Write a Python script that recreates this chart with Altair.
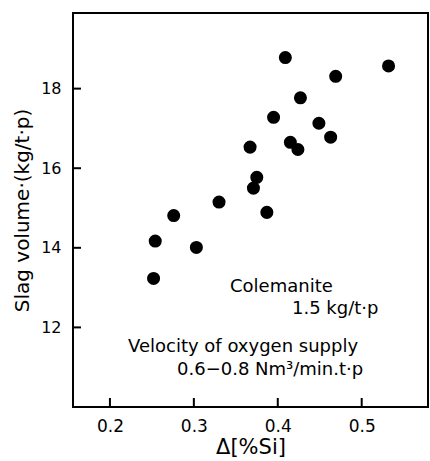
import altair as alt
import pandas as pd

si = [0.409, 0.532, 0.469, 0.427, 0.395, 0.449, 0.463, 0.367, 0.415, 0.424,
      0.375, 0.371, 0.330, 0.387, 0.276, 0.254, 0.303, 0.252]
slag = [18.78, 18.57, 18.31, 17.77, 17.28, 17.13, 16.78, 16.53, 16.65, 16.47,
        15.77, 15.50, 15.15, 14.89, 14.81, 14.17, 14.01, 13.23]
x_ticks = [0.2, 0.3, 0.4, 0.5]
y_ticks = [12, 14, 16, 18]
notes = ["Colemanite", "1.5 kg/t·p", "Velocity of oxygen supply", "0.6−0.8 Nm³/min.t·p"]

FONT = "DejaVu Sans"
W, H = 355, 394
xs = alt.Scale(domain=[0.156, 0.579], nice=False, zero=False)
ys = alt.Scale(domain=[10.0, 19.9], nice=False, zero=False)

df = pd.DataFrame({"si": si, "slag": slag})

pts = alt.Chart(df).mark_circle(size=170, color="black", opacity=1).encode(
    x=alt.X("si:Q", scale=xs, title="Δ[%Si]",
            axis=alt.Axis(values=x_ticks, format=".1f", domain=False, ticks=False, grid=False,
                          labelFontSize=17, labelPadding=11, titleFontSize=21,
                          titlePadding=2, titleFontWeight="normal", labelFont=FONT, titleFont=FONT,
                          labelColor="black", titleColor="black")),
    y=alt.Y("slag:Q", scale=ys, title="Slag volume·(kg/t·p)",
            axis=alt.Axis(values=y_ticks, format="d", domain=False, ticks=False, grid=False,
                          labelFontSize=16, labelPadding=12, titleFontSize=20,
                          titlePadding=8, titleFontWeight="normal", labelFont=FONT, titleFont=FONT,
                          labelColor="black", titleColor="black")),
)

yt = alt.Chart(pd.DataFrame({"v": y_ticks})).mark_rule(color="black", strokeWidth=2).encode(
    y=alt.Y("v:Q", scale=ys), x=alt.value(0), x2=alt.value(8))
xt = alt.Chart(pd.DataFrame({"v": x_ticks})).mark_rule(color="black", strokeWidth=2).encode(
    x=alt.X("v:Q", scale=xs), y=alt.value(H), y2=alt.value(H - 9))

note_pos = [(157, 274), (219, 296), (55, 334), (104, 357)]
texts = []
for t, (px, py) in zip(notes, note_pos):
    texts.append(alt.Chart(pd.DataFrame({"t": [t]})).mark_text(
        align="left", baseline="middle", fontSize=18, font=FONT, color="black").encode(
        text="t:N", x=alt.value(px), y=alt.value(py)))

chart = alt.layer(pts, yt, xt, *texts).properties(
    width=W, height=H,
    background="white",
    autosize=alt.AutoSizeParams(type="none"),
    padding={"left": 73, "top": 13, "right": 2, "bottom": 54},
).configure_view(stroke="black", strokeWidth=2)

chart.save("out.html", embed_options={"renderer": "svg", "actions": False})
